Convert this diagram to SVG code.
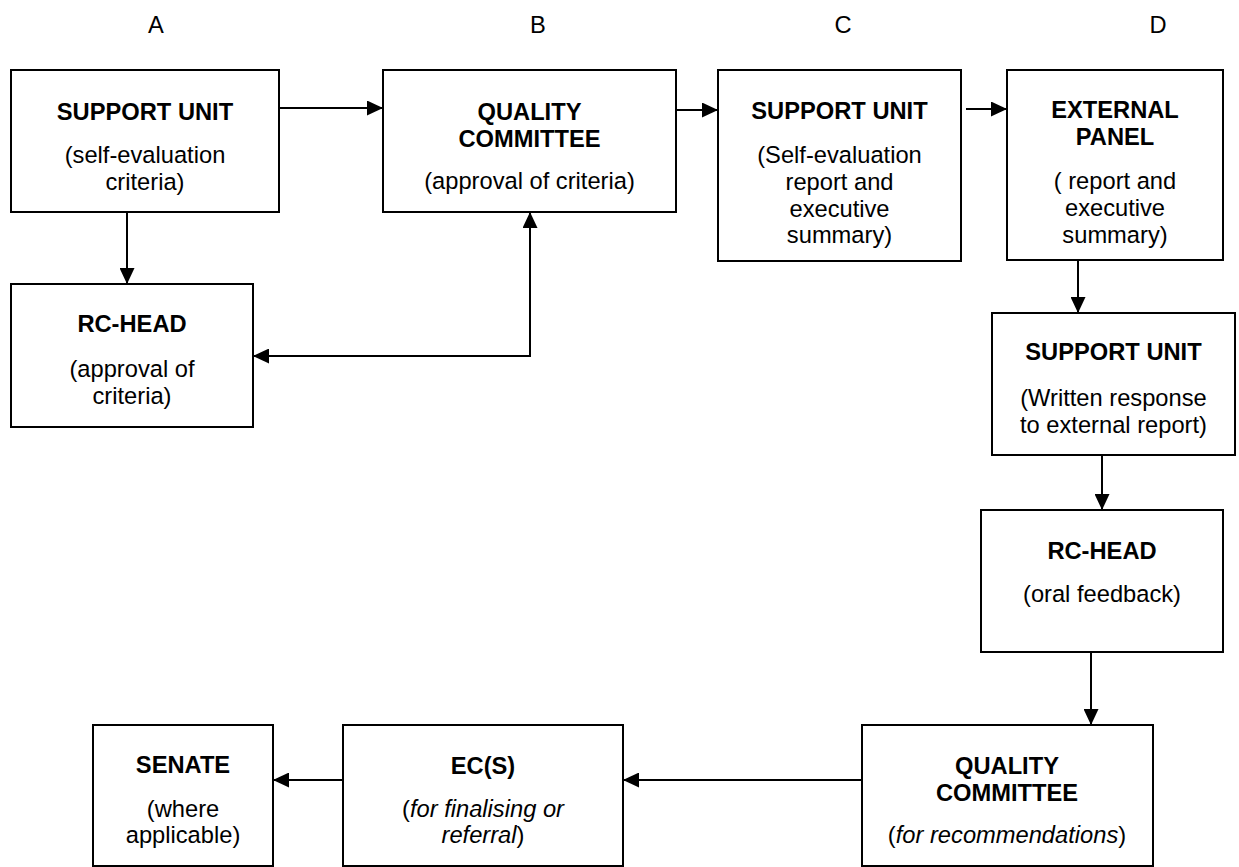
<svg xmlns="http://www.w3.org/2000/svg" width="1239" height="867" viewBox="0 0 1239 867">
<defs>
<style>
.box{fill:#fff;stroke:#000;stroke-width:2}
.conn{fill:none;stroke:#000;stroke-width:2}
text{font-family:"Liberation Sans",Arial,sans-serif;font-size:23.7px;fill:#000;text-anchor:middle}
.b{font-weight:bold}
.i{font-style:italic}
.col{font-size:23.7px}
</style>
<marker id="arr" viewBox="0 0 16 15" refX="16" refY="7.5" markerWidth="16" markerHeight="15" markerUnits="userSpaceOnUse" orient="auto-start-reverse">
<path d="M0,0 L16,7.5 L0,15 z" fill="#000"/>
</marker>
</defs>
<rect width="1239" height="867" fill="#fff"/>
<g id="column-labels">
<text class="col" x="156" y="33">A</text>
<text class="col" x="538" y="33">B</text>
<text class="col" x="843" y="33">C</text>
<text class="col" x="1158" y="33">D</text>
</g>
<g id="connectors">
<path class="conn" d="M279,108 H383" marker-end="url(#arr)"/>
<path class="conn" d="M676,110 H718" marker-end="url(#arr)"/>
<path class="conn" d="M966,109 H1007" marker-end="url(#arr)"/>
<path class="conn" d="M127,212 V284" marker-end="url(#arr)"/>
<path class="conn" d="M253,356 H530 V212" marker-start="url(#arr)" marker-end="url(#arr)"/>
<path class="conn" d="M1078,260 V313" marker-end="url(#arr)"/>
<path class="conn" d="M1102,455 V510" marker-end="url(#arr)"/>
<path class="conn" d="M1091,652 V725" marker-end="url(#arr)"/>
<path class="conn" d="M862,780 H623" marker-end="url(#arr)"/>
<path class="conn" d="M343,780 H273" marker-end="url(#arr)"/>
</g>
<g id="support-unit-a">
<rect class="box" x="11" y="70" width="268" height="142"/>
<text class="b" x="145" y="120">SUPPORT UNIT</text>
<text x="145" y="163">(self-evaluation</text>
<text x="145" y="190">criteria)</text>
</g>
<g id="quality-committee-b">
<rect class="box" x="383" y="70" width="293" height="142"/>
<text class="b" x="529.5" y="120">QUALITY</text>
<text class="b" x="529.5" y="147">COMMITTEE</text>
<text x="529.5" y="189">(approval of criteria)</text>
</g>
<g id="support-unit-c">
<rect class="box" x="718" y="70" width="243" height="191"/>
<text class="b" x="839.5" y="119">SUPPORT UNIT</text>
<text x="839.5" y="163">(Self-evaluation</text>
<text x="839.5" y="190">report and</text>
<text x="839.5" y="217">executive</text>
<text x="839.5" y="243">summary)</text>
</g>
<g id="external-panel-d">
<rect class="box" x="1007" y="70" width="216" height="190"/>
<text class="b" x="1115" y="118">EXTERNAL</text>
<text class="b" x="1115" y="145">PANEL</text>
<text x="1115" y="189">( report and</text>
<text x="1115" y="216">executive</text>
<text x="1115" y="243">summary)</text>
</g>
<g id="rc-head-a">
<rect class="box" x="11" y="284" width="242" height="143"/>
<text class="b" x="132" y="332">RC-HEAD</text>
<text x="132" y="377">(approval of</text>
<text x="132" y="404">criteria)</text>
</g>
<g id="support-unit-d2">
<rect class="box" x="992" y="313" width="243" height="142"/>
<text class="b" x="1113.5" y="360">SUPPORT UNIT</text>
<text x="1113.5" y="406">(Written response</text>
<text x="1113.5" y="433">to external report)</text>
</g>
<g id="rc-head-d3">
<rect class="box" x="981" y="510" width="242" height="142"/>
<text class="b" x="1102" y="559">RC-HEAD</text>
<text x="1102" y="602">(oral feedback)</text>
</g>
<g id="quality-committee-bottom">
<rect class="box" x="862" y="725" width="291" height="141"/>
<text class="b" x="1007" y="774">QUALITY</text>
<text class="b" x="1007" y="801">COMMITTEE</text>
<text x="1007" y="843">(<tspan class="i">for recommendations</tspan>)</text>
</g>
<g id="ecs">
<rect class="box" x="343" y="725" width="280" height="141"/>
<text class="b" x="483" y="774">EC(S)</text>
<text x="483" y="817">(<tspan class="i">for finalising or</tspan></text>
<text x="483" y="843"><tspan class="i">referral</tspan>)</text>
</g>
<g id="senate">
<rect class="box" x="93" y="725" width="180" height="141"/>
<text class="b" x="183" y="773">SENATE</text>
<text x="183" y="817">(where</text>
<text x="183" y="843">applicable)</text>
</g>
</svg>
